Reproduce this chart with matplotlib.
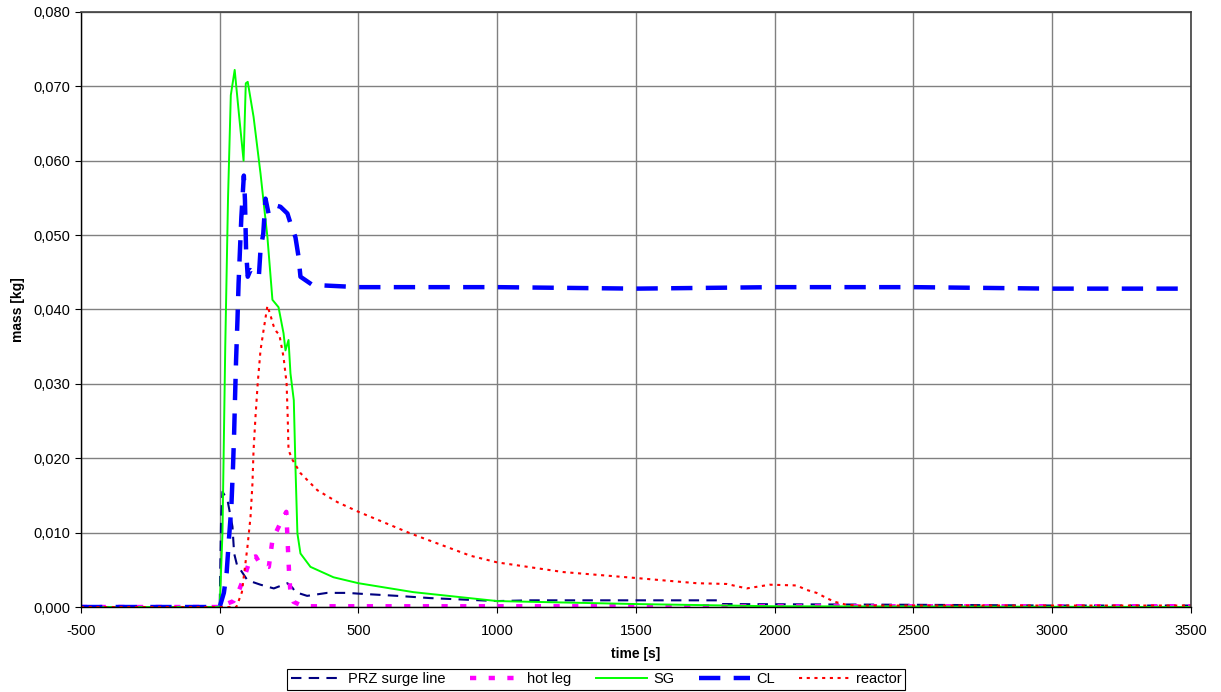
import matplotlib
matplotlib.use("Agg")
import matplotlib.pyplot as plt
from matplotlib.ticker import FuncFormatter, MultipleLocator

plt.rcParams['font.family'] = ['Liberation Sans', 'DejaVu Sans']
plt.rcParams['axes.unicode_minus'] = False

# ---- data ----
prz_t = [-500, 0, 5, 10, 28, 46, 52, 64, 75, 100, 147, 195, 244, 262, 273, 315, 387, 460, 500,
         640, 759, 1000, 1119, 1800, 1809, 2500, 3000, 3500]
prz_v = [0, 0, 0.012, 0.0155, 0.0144, 0.0108, 0.0072, 0.0054, 0.0050, 0.0036, 0.0030, 0.0025,
         0.0032, 0.0026, 0.0020, 0.0015, 0.0019, 0.0019, 0.0018, 0.0015, 0.0012, 0.0008, 0.0009,
         0.0009, 0.0004, 0.0003, 0.0002, 0.0002]

hot_t = [-500, 20, 30, 50, 70, 94, 111, 130, 141, 160, 177, 190, 201, 219, 240, 245, 250, 255,
         266, 300, 3500]
hot_v = [0, 0, 0.0005, 0.0008, 0.0023, 0.0046, 0.0066, 0.0068, 0.0061, 0.0055, 0.0054, 0.0090,
         0.0099, 0.0113, 0.0128, 0.0086, 0.0046, 0.0019, 0.0007, 0.0001, 0.0001]

sg_t = [-500, 0, 10, 20, 30, 40, 54, 70, 86, 94, 101, 122, 147, 172, 190, 212, 230, 237, 248,
        255, 267, 273, 280, 291, 327, 410, 500, 698, 1000, 1500, 2000, 3500]
sg_v = [0, 0, 0.010, 0.035, 0.055, 0.0688, 0.0722, 0.066, 0.0600, 0.0704, 0.0706, 0.0659,
        0.0583, 0.0497, 0.0413, 0.0403, 0.0368, 0.0345, 0.0359, 0.0314, 0.0278, 0.0188, 0.0099,
        0.0072, 0.0054, 0.0040, 0.0032, 0.0020, 0.0008, 0.0004, 0.0001, 0.0000]

cl_t = [-500, 0, 15, 25, 33, 42, 48, 52, 55, 59, 64, 68, 73, 78, 87, 91, 95, 101, 111, 141, 147,
        157, 165, 176, 201, 219, 244, 255, 273, 284, 291, 334, 500, 1000, 1500, 2000, 2500, 3000,
        3500]
cl_v = [0, 0, 0.0019, 0.0046, 0.0090, 0.0135, 0.0189, 0.0234, 0.0278, 0.0332, 0.0386, 0.0435,
        0.0480, 0.0524, 0.0580, 0.0547, 0.0480, 0.0444, 0.0453, 0.0444, 0.0480, 0.0502, 0.0549,
        0.0529, 0.0540, 0.0538, 0.0529, 0.0516, 0.0497, 0.0471, 0.0444, 0.0433, 0.0430, 0.0430,
        0.0428, 0.0430, 0.0430, 0.0428, 0.0428]

rea_t = [-500, 60, 80, 100, 111, 118, 122, 129, 137, 147, 158, 172, 183, 194, 205, 215, 230, 241,
         245, 248, 262, 291, 352, 424, 500, 687, 903, 1000, 1238, 1500, 1719, 1827, 1899, 1982,
         2079, 2115, 2151, 2187, 2216, 2259, 2300, 3500]
rea_v = [0, 0, 0.002, 0.0081, 0.0121, 0.0166, 0.0211, 0.0256, 0.0301, 0.0345, 0.0372, 0.0405,
         0.0392, 0.0378, 0.0370, 0.0366, 0.0336, 0.0301, 0.0256, 0.0211, 0.0198, 0.0180, 0.0157,
         0.0141, 0.0128, 0.0099, 0.0069, 0.0060, 0.0047, 0.0039, 0.0032, 0.0031, 0.0025, 0.0030,
         0.0029, 0.0023, 0.0019, 0.0012, 0.0007, 0.0003, 0.0002, 0.0002]

labels = ["PRZ surge line", "hot leg", "SG", "CL", "reactor"]

# ---- figure ----
fig = plt.figure(figsize=(12.21, 6.92), dpi=100)
ax = fig.add_axes([0.0663, 0.1228, 0.9091, 0.86])

ax.plot(prz_t, prz_v, color="#000080", lw=1.5, dashes=(5, 3.5), label=labels[0])
ax.plot(hot_t, hot_v, color="#FF00FF", lw=3.2, dashes=(1.4, 2.8), label=labels[1])
ax.plot(sg_t, sg_v, color="#00FF00", lw=1.4, label=labels[2])
ax.plot(cl_t, cl_v, color="#0000FF", lw=3.2, dashes=(4.8, 3), label=labels[3])
ax.plot(rea_t, rea_v, color="#FF0000", lw=1.5, dashes=(1.5, 2.2), label=labels[4])

ax.set_xlim(-500, 3500)
ax.set_ylim(0, 0.080)
ax.xaxis.set_major_locator(MultipleLocator(500))
ax.yaxis.set_major_locator(MultipleLocator(0.010))
ax.yaxis.set_major_formatter(FuncFormatter(lambda v, p: f"{v:.3f}".replace('.', ',')))
ax.grid(True, color="#808080", lw=1.0)
ax.set_axisbelow(True)
for s in ["top", "right"]:
    ax.spines[s].set_color("#404040")
    ax.spines[s].set_linewidth(1.2)
for s in ["left", "bottom"]:
    ax.spines[s].set_color("black")
    ax.spines[s].set_linewidth(1.0)
ax.tick_params(axis='y', labelsize=10.5, direction='out', length=4, colors='black')
ax.tick_params(axis='x', labelsize=10.5, direction='out', length=4, pad=8, colors='black')
ax.set_xlabel("time [s]", fontsize=10, fontweight='bold', labelpad=7)
ax.set_ylabel("mass [kg]", fontsize=10, fontweight='bold', labelpad=6)

leg = fig.legend(loc='center', bbox_to_anchor=(0.4885, 0.0185), ncol=5, fontsize=10.5,
                 frameon=True, fancybox=False, edgecolor='black', framealpha=1,
                 handlelength=3.5, columnspacing=1.7, handletextpad=0.4,
                 borderpad=0.25)
leg.get_frame().set_linewidth(0.8)

fig.savefig("out.png", dpi=100)
